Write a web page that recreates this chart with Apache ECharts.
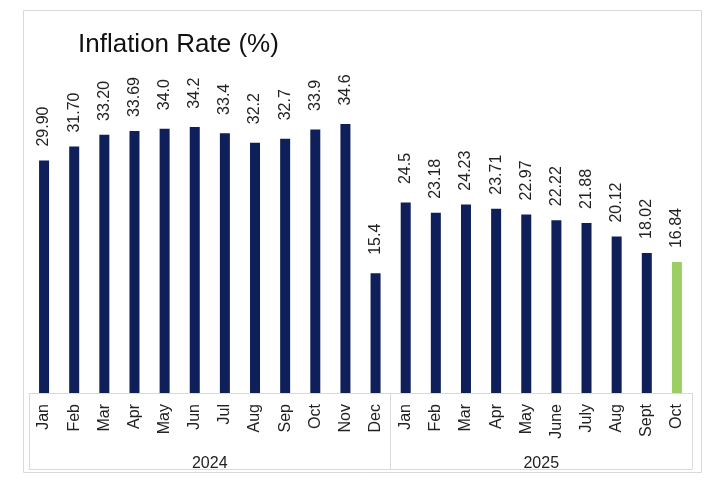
<!DOCTYPE html>
<html><head><meta charset="utf-8">
<script src="https://cdn.jsdelivr.net/npm/echarts@6/dist/echarts.min.js"></script>
<style>html,body{margin:0;padding:0;background:#fff}#c{width:720px;height:480px}</style>
</head><body><div id="c"></div>
<script>
// ---- data ----
const years = ['2024', '2025'];
const months2024 = ['Jan','Feb','Mar','Apr','May','Jun','Jul','Aug','Sep','Oct','Nov','Dec'];
const months2025 = ['Jan','Feb','Mar','Apr','May','June','July','Aug','Sept','Oct'];
const values2024 = ['29.90','31.70','33.20','33.69','34.0','34.2','33.4','32.2','32.7','33.9','34.6','15.4'];
const values2025 = ['24.5','23.18','24.23','23.71','22.97','22.22','21.88','20.12','18.02','16.84'];
const highlightKey = 'Oct 2025';

// ---- build ----
const monthGroups = [months2024, months2025];
const valueGroups = [values2024, values2025];
const cats = [], labels = [], yearAt = {}, groupStarts = [];
let idx = 0;
monthGroups.forEach((ms, g) => {
  groupStarts.push(idx);
  ms.forEach(m => { cats.push(m + ' ' + years[g]); });
  yearAt[idx + Math.floor((ms.length - 1) / 2)] = years[g];
  idx += ms.length;
  valueGroups[g].forEach(v => labels.push(v));
});
const seriesData = labels.map((s, i) => {
  const d = { value: parseFloat(s) };
  if (cats[i] === highlightKey) d.itemStyle = { color: '#9bcf63' };
  return d;
});

const FONT = 'Liberation Sans, Arial, sans-serif';
const GRAY = '#d9d9d9';
const chart = echarts.init(document.getElementById('c'), null, { renderer: 'canvas' });
chart.setOption({
  animation: false,
  backgroundColor: '#fff',
  title: {
    text: 'Inflation Rate (%)', left: 73, top: 27,
    textStyle: { fontSize: 26, fontWeight: 'normal', color: '#111', fontFamily: FONT }
  },
  graphic: [{
    type: 'rect', left: 21, top: 8, silent: true, z: -1,
    shape: { width: 678, height: 462 },
    style: { fill: 'none', stroke: GRAY, lineWidth: 1 }
  }],
  grid: { left: 29, right: 28, top: 82, bottom: 87 },
  xAxis: [{
    type: 'category', data: cats, position: 'bottom',
    axisLine: { lineStyle: { color: GRAY, width: 1 } },
    axisTick: {
      show: true, length: 76, inside: false,
      interval: (i) => groupStarts.indexOf(i) >= 0,
      lineStyle: { color: GRAY, width: 1 }
    },
    axisLabel: {
      interval: 0, rotate: 90, margin: 11, fontSize: 16, color: '#222', fontFamily: FONT,
      formatter: (v) => v.split(' ')[0]
    }
  }, {
    type: 'category', data: cats, position: 'bottom', offset: 76,
    axisLine: { lineStyle: { color: GRAY, width: 1 } },
    axisTick: { show: false },
    axisLabel: {
      inside: true, interval: 0, margin: -3, fontSize: 16, color: '#222', fontFamily: FONT,
      padding: [0, 0, 0, 30],
      formatter: (v, i) => yearAt[i] || ''
    }
  }],
  yAxis: { type: 'value', min: 0, max: 40, show: false, splitLine: { show: false } },
  series: [{
    type: 'bar', xAxisIndex: 0, data: seriesData, barWidth: 10,
    itemStyle: { color: '#0f1f5a' },
    label: {
      show: true, position: 'top', rotate: 90, align: 'center', verticalAlign: 'middle',
      distance: 34, fontSize: 16, color: '#222', fontFamily: FONT,
      formatter: (p) => labels[p.dataIndex]
    }
  }]
});
</script></body></html>
